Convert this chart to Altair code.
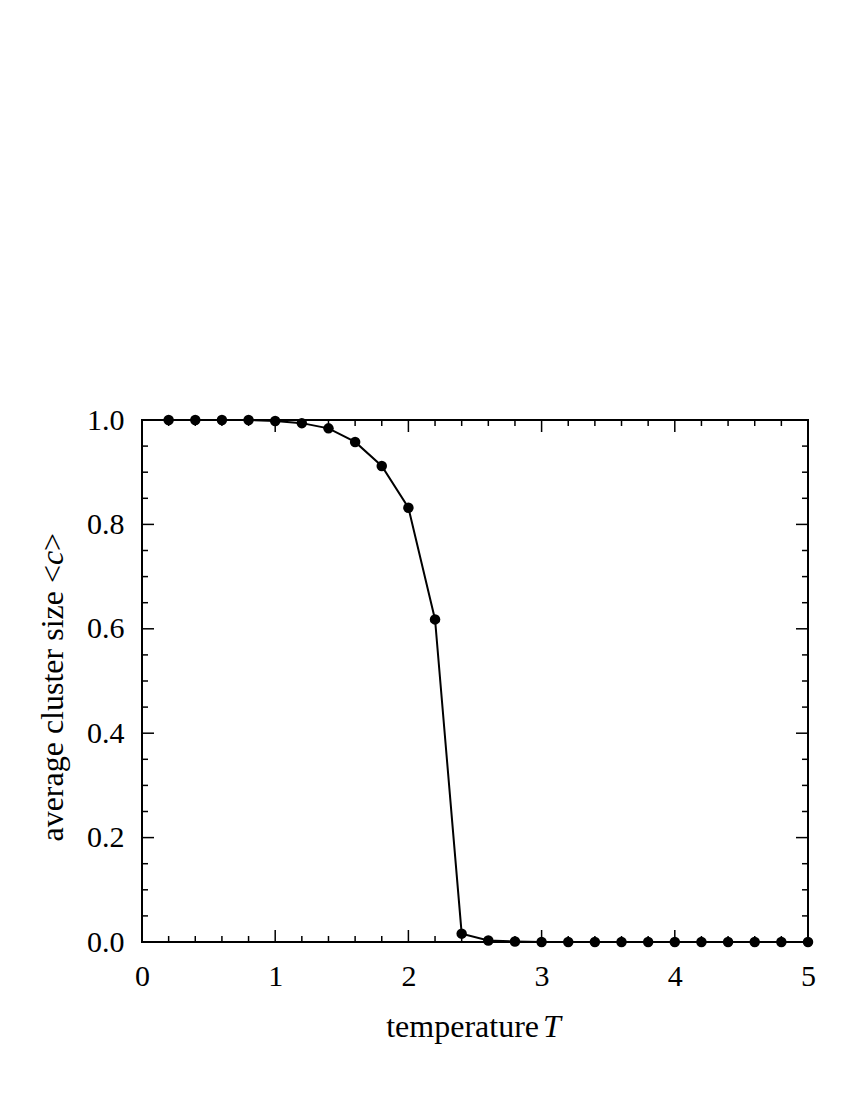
import altair as alt
import pandas as pd

temperature = [0.2, 0.4, 0.6, 0.8, 1.0, 1.2, 1.4, 1.6, 1.8, 2.0, 2.2, 2.4, 2.6,
               2.8, 3.0, 3.2, 3.4, 3.6, 3.8, 4.0, 4.2, 4.4, 4.6, 4.8, 5.0]
cluster = [1.0, 1.0, 1.0, 1.0, 0.998, 0.994, 0.984, 0.958, 0.912, 0.832, 0.618,
           0.016, 0.003, 0.001, 0.0, 0.0, 0.0, 0.0, 0.0, 0.0, 0.0, 0.0, 0.0, 0.0, 0.0]

x_major = [0, 1, 2, 3, 4, 5]
x_minor = [round(0.2 * i, 2) for i in range(26) if i % 5 != 0]
y_major = [0.0, 0.2, 0.4, 0.6, 0.8, 1.0]
y_minor = [round(0.05 * i, 2) for i in range(21) if i % 4 != 0]

W, H = 666, 522
FONT = "Liberation Serif"

df = pd.DataFrame({"T": temperature, "c": cluster})
xs = alt.Scale(domain=[0, 5], nice=False, zero=False)
ys = alt.Scale(domain=[0, 1], nice=False, zero=False)
xaxis = alt.Axis(values=x_major, format="d", ticks=False, domain=False, grid=False,
                 title=None, labelPadding=19, labelFlush=False)
yaxis = alt.Axis(values=y_major, format=".1f", ticks=False, domain=False, grid=False,
                 title=None, labelPadding=18, labelFlush=False)

base = alt.Chart(df)
line = base.mark_line(color="black", strokeWidth=2).encode(
    x=alt.X("T:Q", scale=xs, axis=xaxis), y=alt.Y("c:Q", scale=ys, axis=yaxis))
pts = base.mark_point(filled=True, color="black", opacity=1, size=110).encode(
    x=alt.X("T:Q", scale=xs, axis=xaxis), y=alt.Y("c:Q", scale=ys, axis=yaxis))


def xticks(vals, length):
    d = pd.DataFrame({"T": vals})
    bot = alt.Chart(d).mark_rule(color="black", strokeWidth=1.5).encode(
        x=alt.X("T:Q", scale=xs, axis=xaxis), y=alt.value(H), y2=alt.value(H - length))
    top = alt.Chart(d).mark_rule(color="black", strokeWidth=1.5).encode(
        x=alt.X("T:Q", scale=xs, axis=xaxis), y=alt.value(0), y2=alt.value(length))
    return [bot, top]


def yticks(vals, length):
    d = pd.DataFrame({"c": vals})
    lft = alt.Chart(d).mark_rule(color="black", strokeWidth=1.5).encode(
        y=alt.Y("c:Q", scale=ys, axis=yaxis), x=alt.value(0), x2=alt.value(length))
    rgt = alt.Chart(d).mark_rule(color="black", strokeWidth=1.5).encode(
        y=alt.Y("c:Q", scale=ys, axis=yaxis), x=alt.value(W), x2=alt.value(W - length))
    return [lft, rgt]


ticks = xticks(x_major, 12) + xticks(x_minor, 6) + yticks(y_major, 12) + yticks(y_minor, 6)


def label(text, x, y, angle=0, align="center", italic=False):
    return alt.Chart(pd.DataFrame({"t": [text]})).mark_text(
        font=FONT, fontSize=32, color="black", angle=angle, align=align, baseline="alphabetic",
        fontStyle="italic" if italic else "normal").encode(
        text="t:N", x=alt.value(x), y=alt.value(y))


XT_Y = 1037 - 420
xt1 = label("temperature", 539 - 142, XT_Y, align="right")
xt2 = label("T", 543 - 142, XT_Y, align="left", italic=True)

YX = 63 - 142
Y0 = 565 - 420
yt1 = label("average cluster size <", YX, Y0, angle=270, align="right")
yt2 = label("c", YX, Y0, angle=270, align="left", italic=True)
yt3 = label(">", YX, Y0 - 14, angle=270, align="left")

chart = alt.layer(line, pts, *ticks, xt1, xt2, yt1, yt2, yt3).properties(
    width=W, height=H,
    autosize=alt.AutoSizeParams(type="none"),
    padding={"left": 134, "top": 412, "right": 34, "bottom": 150},
).configure_view(stroke="black", strokeWidth=2).configure_axis(
    labelFont=FONT, labelFontSize=30, labelColor="black"
)

chart.save("out.html", embed_options={"renderer": "svg", "actions": False})
